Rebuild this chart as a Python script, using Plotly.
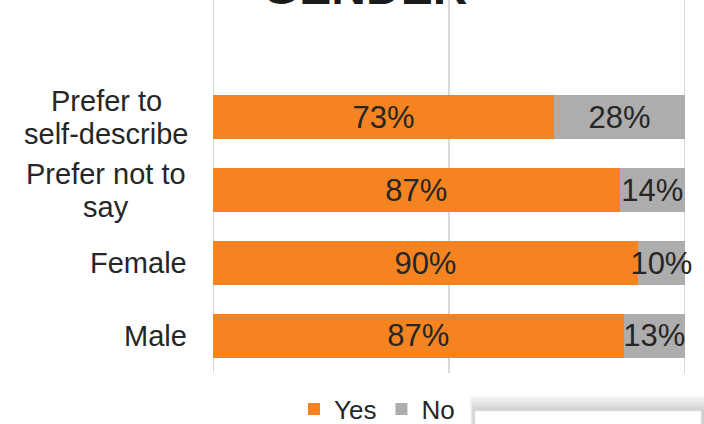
import plotly.graph_objects as go

# Survey responses by gender (percent of respondents)
categories = ["Male", "Female", "Prefer not to<br>say", "Prefer to<br>self-describe"]
yes_pct = [87, 90, 87, 73]
no_pct = [13, 10, 14, 28]
grid_ticks = [0, 50, 100]

ORANGE = "#F5831F"
GREY = "#ADADAD"
TEXT = "#262626"
FONT = "Liberation Sans, Arial, sans-serif"

W, H = 704, 424
ML, MR, MT, MB = 213, 19, 0, 51
PW, PH = W - ML - MR, H - MT - MB


def px_x(x):
    return (x - ML) / PW


def px_y(y):
    return (H - MB - y) / PH


fig = go.Figure()
for name, vals, color in [("Yes", yes_pct, ORANGE), ("No", no_pct, GREY)]:
    fig.add_trace(go.Bar(
        name=name,
        y=categories,
        x=vals,
        orientation="h",
        marker=dict(color=color, line=dict(width=0)),
        text=[f"{v}%" for v in vals],
        textposition="inside",
        insidetextanchor="middle",
        constraintext="none",
        textfont=dict(family=FONT, size=31, color=TEXT),
        cliponaxis=False,
        hoverinfo="skip",
    ))

# Category labels, centred line by line to the left of the bars
LINE_GAP = 33
for cat in categories:
    lines = cat.split("<br>")
    n = len(lines)
    for i, line in enumerate(lines):
        fig.add_annotation(
            x=px_x(106) if n > 1 else px_x(189), xref="paper",
            xanchor="center" if n > 1 else "right",
            y=cat, yref="y", yanchor="middle",
            yshift=((n - 1) / 2 - i) * LINE_GAP,
            text=line, showarrow=False,
            font=dict(family=FONT, size=29, color=TEXT),
        )

# Title, partly above the top of the canvas
fig.add_annotation(
    x=px_x(364), xref="paper", xanchor="center",
    y=px_y(6), yref="paper", yanchor="bottom", yshift=-10,
    text="<b>GENDER</b>", showarrow=False,
    font=dict(family=FONT, size=48, color="#1a1a1a"),
)

# Vertical gridlines across the full plot height
shapes = []
for g in grid_ticks:
    shapes.append(dict(
        type="line", xref="x", yref="paper", x0=g, x1=g, y0=0, y1=1,
        line=dict(color="#D9D9D9", width=2), layer="below",
    ))

# Soft-shadowed panel in the lower right corner
for k in range(8):
    off = 16 - 2 * k
    shapes.append(dict(
        type="rect", xref="paper", yref="paper",
        x0=px_x(474 - off * 0.25), x1=px_x(706 + off * 0.1),
        y0=px_y(430), y1=px_y(411 - off),
        fillcolor="#000000", opacity=0.025, line=dict(width=0), layer="above",
    ))
shapes.append(dict(
    type="rect", xref="paper", yref="paper",
    x0=px_x(475), x1=px_x(701), y0=px_y(430), y1=px_y(411),
    fillcolor="#FFFFFF", line=dict(color="#EBEBEB", width=1), layer="above",
))
fig.update_layout(shapes=shapes)

fig.update_layout(
    width=W, height=H,
    margin=dict(l=ML, r=MR, t=MT, b=MB, pad=0, autoexpand=False),
    barmode="stack",
    barnorm="percent",
    bargap=0.4,
    paper_bgcolor="white",
    plot_bgcolor="white",
    showlegend=True,
    legend=dict(
        orientation="h",
        traceorder="normal",
        x=px_x(377), xanchor="center",
        y=px_y(409), yanchor="middle",
        font=dict(family=FONT, size=26, color=TEXT),
        itemwidth=30,
        tracegroupgap=0,
    ),
    xaxis=dict(
        range=[0, 100],
        showticklabels=False,
        showgrid=False,
        zeroline=False,
        showline=False,
        fixedrange=True,
    ),
    yaxis=dict(
        type="category",
        categoryorder="array",
        categoryarray=categories,
        range=[-0.507, 4.603],
        showticklabels=False,
        showgrid=False,
        zeroline=False,
        showline=False,
        fixedrange=True,
    ),
)

fig.write_html("out.html")
